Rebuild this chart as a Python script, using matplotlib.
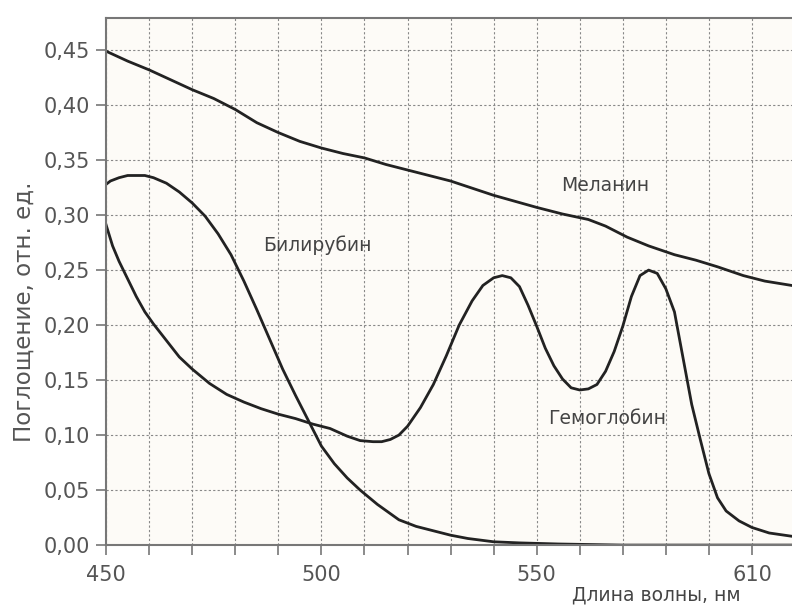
import matplotlib.pyplot as plt
from matplotlib.ticker import MultipleLocator

# melanin
mel_x = [450, 455, 460, 465, 470, 475, 480, 485, 490, 495, 500, 505, 510, 515, 520, 530, 540, 550, 556, 562, 566, 571, 576, 582, 587, 592, 598, 603, 609.3]
mel_y = [0.449, 0.440, 0.432, 0.423, 0.414, 0.406, 0.396, 0.384, 0.375, 0.367, 0.361, 0.356, 0.352, 0.346, 0.341, 0.331, 0.318, 0.307, 0.301, 0.296, 0.290, 0.280, 0.272, 0.264, 0.259, 0.253, 0.245, 0.240, 0.236]

# bilirubin
bil_x = [450, 451, 453, 455, 457, 459, 461, 464, 467, 470, 473, 476, 479, 482, 485, 488, 491, 494, 497, 500, 503, 506, 509, 513, 518, 522, 526, 530, 534, 540, 546, 555, 570, 590, 609.3]
bil_y = [0.328, 0.331, 0.334, 0.336, 0.336, 0.336, 0.334, 0.329, 0.321, 0.311, 0.299, 0.283, 0.264, 0.240, 0.214, 0.187, 0.160, 0.136, 0.113, 0.090, 0.074, 0.061, 0.050, 0.037, 0.023, 0.017, 0.013, 0.009, 0.006, 0.003, 0.002, 0.001, 0.0, 0.0, 0.0]

# hemoglobin
hem_x = [450, 451.5, 453, 455, 457, 459, 461, 464, 467, 470, 474, 478, 482, 486, 490, 494, 498, 502, 506, 509, 512, 514, 516, 518, 520, 523, 526, 529, 532, 535, 537.5, 540, 542, 544, 546, 548, 550, 552, 554, 556, 558, 560, 562, 564, 566, 568, 570, 572, 574, 576, 578, 580, 582, 584, 586, 588, 590, 592, 594, 597, 600, 604, 609.3]
hem_y = [0.291, 0.272, 0.258, 0.242, 0.226, 0.212, 0.201, 0.186, 0.171, 0.160, 0.147, 0.137, 0.130, 0.124, 0.119, 0.115, 0.110, 0.106, 0.099, 0.095, 0.094, 0.094, 0.096, 0.100, 0.108, 0.125, 0.146, 0.172, 0.200, 0.222, 0.236, 0.243, 0.245, 0.243, 0.235, 0.218, 0.199, 0.179, 0.163, 0.151, 0.143, 0.141, 0.142, 0.146, 0.158, 0.176, 0.199, 0.226, 0.245, 0.250, 0.247, 0.233, 0.212, 0.170, 0.128, 0.096, 0.065, 0.043, 0.031, 0.022, 0.016, 0.011, 0.008]

ytick_vals = [0.0, 0.05, 0.10, 0.15, 0.20, 0.25, 0.30, 0.35, 0.40, 0.45]
ytick_labels = ["0,00", "0,05", "0,10", "0,15", "0,20", "0,25", "0,30", "0,35", "0,40", "0,45"]
xtick_vals = [450, 500, 550, 600]
xtick_labels = ["450", "500", "550", "610"]

fig = plt.figure(figsize=(7.92, 6.07), dpi=100)
ax = fig.add_axes([0.134, 0.102, 0.866, 0.868])
ax.set_facecolor("#fdfbf7")

ax.plot(mel_x, mel_y, color="#222222", lw=2, solid_joinstyle="round")
ax.plot(bil_x, bil_y, color="#222222", lw=2, solid_joinstyle="round")
ax.plot(hem_x, hem_y, color="#222222", lw=2, solid_joinstyle="round")

ax.set_xlim(450, 609.3)
ax.set_ylim(0, 0.479)

ax.set_xticks(xtick_vals)
ax.set_xticklabels(xtick_labels)
ax.xaxis.set_minor_locator(MultipleLocator(10))
ax.set_yticks(ytick_vals)
ax.set_yticklabels(ytick_labels)

ax.tick_params(axis="both", which="both", direction="out", length=7.5, width=1.2,
               color="#777777", labelcolor="#555555", labelsize=15)
ax.tick_params(axis="x", pad=7)
ax.tick_params(axis="y", pad=4)

ax.grid(True, which="both", axis="x", linestyle=(0, (2, 2)), color="#888888", lw=0.8)
ax.grid(True, which="major", axis="y", linestyle=(0, (2, 2)), color="#888888", lw=0.8)

for s in ["left", "bottom", "top"]:
    ax.spines[s].set_color("#777777")
    ax.spines[s].set_linewidth(1.5)
ax.spines["right"].set_visible(False)

ax.text(566, 0.327, "Меланин", fontsize=13.5, color="#444444", ha="center", va="center")
ax.text(499, 0.273, "Билирубин", fontsize=13.5, color="#444444", ha="center", va="center")
ax.text(566.3, 0.115, "Гемоглобин", fontsize=13.5, color="#444444", ha="center", va="center")

fig.text(0.03, 0.486, "Поглощение, отн. ед.", rotation=90, fontsize=16.5, color="#555555",
         ha="center", va="center")
fig.text(0.829, 0.004, "Длина волны, нм", fontsize=13.5, color="#444444", ha="center", va="bottom")

plt.savefig("out.png", dpi=100)
